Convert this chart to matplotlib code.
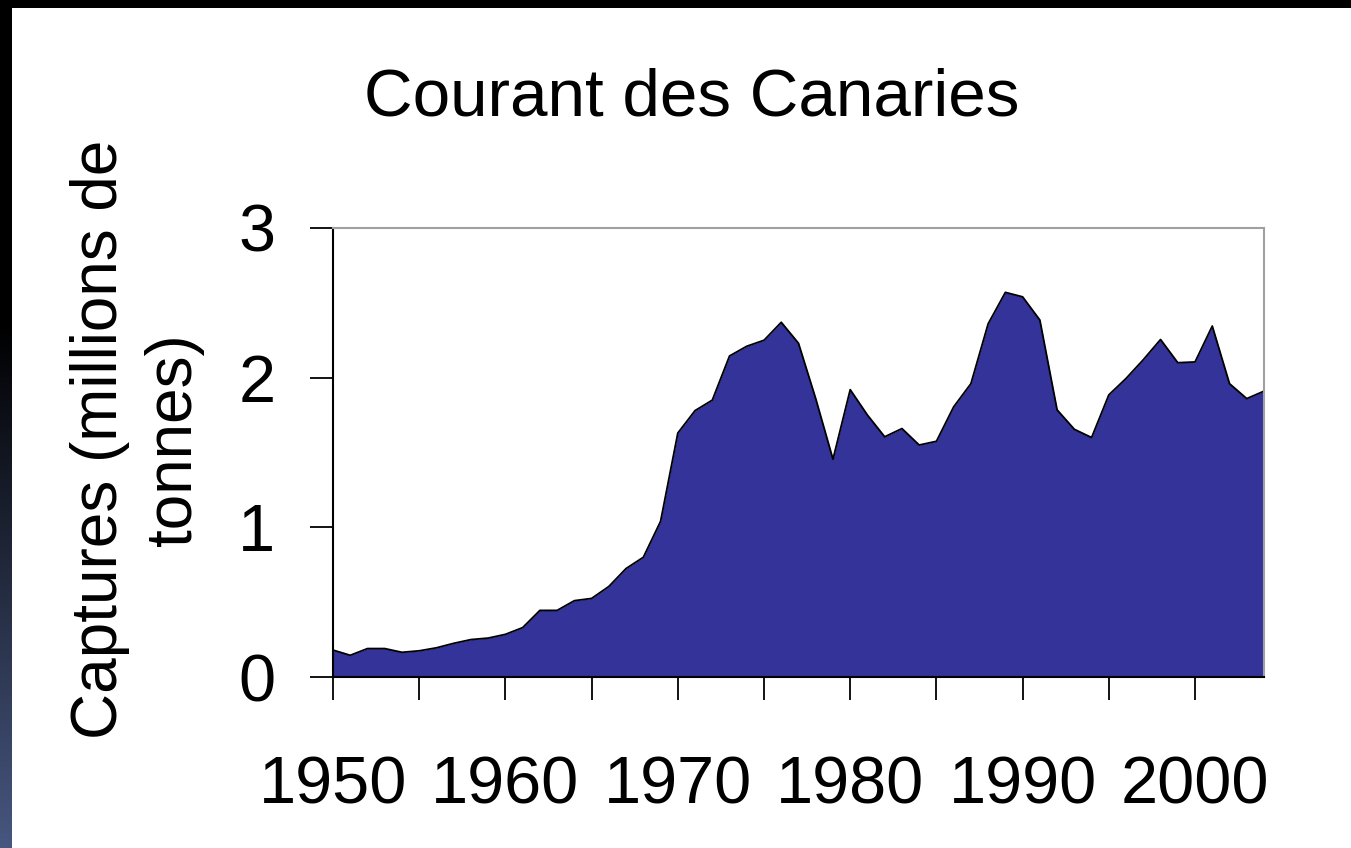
import numpy as np
import matplotlib
matplotlib.use('Agg')
import matplotlib.pyplot as plt
from matplotlib.colors import LinearSegmentedColormap

plt.rcParams['font.family'] = ['Liberation Sans', 'DejaVu Sans']

# catches, millions of tonnes
years = list(range(1950, 2005))
catch = [0.18, 0.145, 0.19, 0.19, 0.165, 0.175, 0.195, 0.225, 0.25, 0.26,
         0.285, 0.33, 0.445, 0.445, 0.51, 0.525, 0.605, 0.725, 0.80, 1.04,
         1.63, 1.78, 1.85, 2.145, 2.21, 2.25, 2.37, 2.23, 1.86, 1.455,
         1.92, 1.75, 1.605, 1.66, 1.55, 1.575, 1.805, 1.96, 2.36, 2.57,
         2.54, 2.385, 1.785, 1.655, 1.60, 1.885, 1.995, 2.12, 2.255, 2.10,
         2.105, 2.345, 1.96, 1.86, 1.91]

xticks = list(range(1950, 2001, 5))
xlabels = [str(y) if y % 10 == 0 else '' for y in xticks]
yticks = [0, 1, 2, 3]

fig = plt.figure(figsize=(13.51, 8.48), dpi=100)
fig.patch.set_facecolor('white')

# black frame on top, dark gradient strip on the left
strip = fig.add_axes([0, 0, 12/1351, 1])
cmap = LinearSegmentedColormap.from_list('strip', [(0, '#000000'), (0.38, '#000000'), (1, '#47567f')])
grad = np.linspace(0, 1, 400).reshape(-1, 1)
strip.imshow(grad, aspect='auto', cmap=cmap, extent=[0, 1, 1, 0])
strip.set_axis_off()
top = fig.add_axes([0, 1 - 8/848, 1, 8/848])
top.set_facecolor('black')
top.set_xticks([]); top.set_yticks([])
for s in top.spines.values():
    s.set_visible(False)

ax = fig.add_axes([333/1351, 1 - 677/848, (1264-333)/1351, (677-228)/848])
ax.fill_between(years, catch, 0, color='#333399', lw=0)
ax.plot(years, catch, color='black', lw=1.3)

ax.set_xlim(1950, 2004)
ax.set_ylim(0, 3)
ax.set_xticks(xticks)
ax.set_xticklabels(xlabels)
ax.set_yticks(yticks)
ax.tick_params(axis='both', direction='out', length=16.5, width=1.3, colors='black', labelsize=48)
ax.tick_params(axis='x', pad=40)
ax.tick_params(axis='y', pad=25)
for side in ['left', 'bottom']:
    ax.spines[side].set_linewidth(1.5)
    ax.spines[side].set_color('black')
for side in ['top', 'right']:
    ax.spines[side].set_linewidth(1.5)
    ax.spines[side].set_color('#a0a0a0')

fig.text(692/1351, 1 - 115/848, 'Courant des Canaries', fontsize=48.5, ha='center', va='baseline')
fig.text(137/1351, 0.482, 'Captures (millions de\ntonnes)', fontsize=46, rotation=90,
         ha='center', va='center', multialignment='center', linespacing=1.3)

fig.savefig('out.png', dpi=100, facecolor='white')
